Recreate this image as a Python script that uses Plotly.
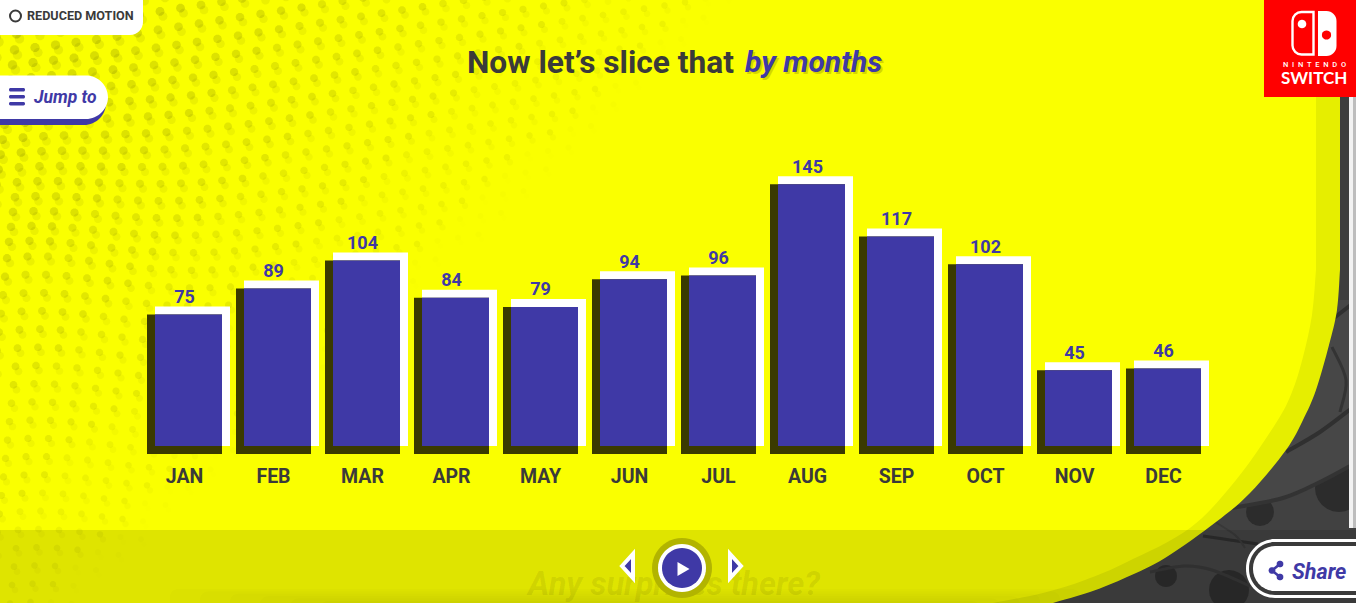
import math
import plotly.graph_objects as go

months = ["JAN", "FEB", "MAR", "APR", "MAY", "JUN", "JUL", "AUG", "SEP", "OCT", "NOV", "DEC"]
values = [75, 89, 104, 84, 79, 94, 96, 145, 117, 102, 45, 46]
title_plain = "Now let\u2019s slice that"
title_script = "by months"
next_line = "Any surprises there?"

W, H = 1356, 603
BLUE, DARK_TEXT, YELLOW, RIM = "#3f39a6", "#3a3a3a", "#faff00", "#e6ee00"
PX_PER_UNIT, BASE_PX, PITCH, BAR_W, SHIFT = 1.86, 454.0, 89.0, 75.0, 8.0
FIRST_CENTER = 184.5


def P(x, y):
    return f"{x / W:.5f},{1 - y / H:.5f}"


def poly(points, close=True):
    return "M" + "L".join(P(x, y) for x, y in points) + ("Z" if close else "")


def rrect(x0, y0, x1, y1, tl=0, tr=0, br=0, bl=0):
    k = 0.45
    d = f"M{P(x0 + tl, y0)}L{P(x1 - tr, y0)}"
    d += f"C{P(x1 - tr * k, y0)} {P(x1, y0 + tr * k)} {P(x1, y0 + tr)}"
    d += f"L{P(x1, y1 - br)}C{P(x1, y1 - br * k)} {P(x1 - br * k, y1)} {P(x1 - br, y1)}"
    d += f"L{P(x0 + bl, y1)}C{P(x0 + bl * k, y1)} {P(x0, y1 - bl * k)} {P(x0, y1 - bl)}"
    d += f"L{P(x0, y0 + tl)}C{P(x0, y0 + tl * k)} {P(x0 + tl * k, y0)} {P(x0 + tl, y0)}Z"
    return d


def smooth(points):
    d = ""
    n = len(points)
    for i in range(n - 1):
        p0 = points[max(i - 1, 0)]
        p1 = points[i]
        p2 = points[i + 1]
        p3 = points[min(i + 2, n - 1)]
        c1 = (p1[0] + (p2[0] - p0[0]) / 6, p1[1] + (p2[1] - p0[1]) / 6)
        c2 = (p2[0] - (p3[0] - p1[0]) / 6, p2[1] - (p3[1] - p1[1]) / 6)
        d += f"C{P(*c1)} {P(*c2)} {P(*p2)}"
    return d


def ngon(cx, cy, r, n=10):
    return poly([(cx + r * math.cos(2 * math.pi * i / n), cy + r * math.sin(2 * math.pi * i / n)) for i in range(n)])


shapes = []


def fill(path, color, layer="below", line=None, width=0):
    s = dict(type="path", path=path, xref="paper", yref="paper", fillcolor=color, layer=layer,
             line=dict(width=width, color=line or "rgba(0,0,0,0)"))
    shapes.append(s)


def stroke(points, color, width, layer="below"):
    d = "M" + P(*points[0]) + smooth(points)
    shapes.append(dict(type="path", path=d, xref="paper", yref="paper", layer=layer,
                       fillcolor="rgba(0,0,0,0)", line=dict(width=width, color=color)))


# --- tyre backdrop (right and bottom right) ---
TYRE_DARK = "#2c2c2c"
TYRE = "#474747"
fill(poly([(1000, 250), (1356, 250), (1356, 603), (1000, 603)]), "#414141")
fill(poly([(1340, 0), (1350, 0), (1350, 300), (1340, 300)]), "#3e3e3e")
# lobes sit under the tread band, so the band trims their tops
fill(ngon(1260, 512, 14, 20), TYRE_DARK)
fill(ngon(1339, 488, 24, 24), TYRE_DARK)
fill(ngon(1166, 576, 11, 20), TYRE_DARK)
fill(ngon(1229, 590, 20, 24), TYRE_DARK)
band_lower = [(1232, 508), (1283, 498), (1320, 482), (1352, 465)]
fill(f"M{P(*band_lower[0])}{smooth(band_lower)}L{P(1352, 300)}L{P(1290, 300)}Z", TYRE)
stroke(band_lower, "#333333", 4)
stroke([(1286, 452), (1320, 432), (1352, 408)], "#303030", 4)
stroke([(1332, 347), (1346, 380), (1340, 412)], "#333333", 3)
stroke([(1334, 318), (1352, 304)], "#303030", 4)
stroke([(1203, 536), (1230, 540), (1258, 544)], TYRE_DARK, 3)
stroke([(1150, 572), (1184, 566), (1212, 570), (1250, 586)], "#363636", 3)
stroke([(1212, 520), (1235, 535), (1245, 548)], "#383838", 2)
fill(poly([(1349, 0), (1353, 0), (1353, 528), (1349, 528)]), "#f2f2f2")
fill(poly([(1353, 90), (1356, 90), (1356, 528), (1353, 528)]), "#bdbdbd")

# --- rounded yellow panel and its rim ---
outer = [(1340, 270), (1337, 310), (1329, 345), (1316, 390), (1303, 420), (1286, 450), (1250, 493),
         (1216, 522), (1165, 558), (1127, 577), (1090, 592), (1053, 603), (1030, 610)]
inner = [(1316, 270), (1312, 315), (1303, 357), (1292, 392), (1276, 423), (1236, 480), (1190, 528),
         (1127, 562), (1085, 580), (1043, 593), (993, 603), (960, 610)]
fill(f"M{P(-5, -5)}L{P(1340, -5)}L{P(*outer[0])}{smooth(outer)}L{P(-5, 610)}Z", RIM)
fill(f"M{P(-5, -5)}L{P(1316, -5)}L{P(*inner[0])}{smooth(inner)}L{P(-5, 610)}Z", YELLOW)

# --- halftone decoration ---
bins = {}
for u in range(-12, 62):
    for v in range(-8, 50):
        x = 20.5 * u - 2.0 * v
        y = 18.5 * v - 3.2 * u
        t = min(max((y - 40) / 260, 0), 1)
        y += -50 * t * math.exp(-((x / 150) ** 2))
        s = 1 - (max(x, 0) + 1.1 * max(y, 0)) / 760
        if x < -8 or y < -8 or y > 612 or s <= 0.03:
            continue
        b = round(s * 6)
        bins.setdefault(b, []).append((x, y, s))
for b, pts in sorted(bins.items()):
    a = 0.17 * (b / 6) ** 0.7 + 0.012
    fill("".join(ngon(x + 3, y + 5, 3.2 + 1.8 * s) for x, y, s in pts), f"rgba(0,0,0,{a * 0.4:.3f})")
    fill("".join(ngon(x, y, 3.2 + 1.8 * s) for x, y, s in pts), f"rgba(0,0,0,{a * 0.8:.3f})")

# --- footer strip ---
fill(poly([(0, 530), (W, 530), (W, H), (0, H)]), "rgba(0,0,0,0.105)", "above")
for i in range(6):
    fill(rrect(170 + i * 30, 589 + i * 2.4, 1080 - i * 20, 604, 8, 8, 0, 0), "rgba(70,70,0,0.016)", "above")

# --- top-left buttons ---
fill(rrect(-20, -20, 143, 35, 0, 0, 13, 0), "#ffffff", "above")
shapes.append(dict(type="circle", xref="paper", yref="paper", x0=10 / W, x1=21 / W, y0=1 - 21.5 / H, y1=1 - 10.5 / H,
                   line=dict(color=DARK_TEXT, width=2), fillcolor="rgba(0,0,0,0)", layer="above"))
fill(rrect(-20, 84, 106, 125, 0, 18, 22, 0), BLUE, "above")
fill(rrect(-20, 75.5, 108, 119, 0, 22, 22, 0), "#ffffff", "above")
for yy in (88, 95, 102):
    fill(rrect(9, yy, 25, yy + 3.6, 1.5, 1.5, 1.5, 1.5), BLUE, "above")

# --- Nintendo Switch logo ---
fill(poly([(1264, 0), (W, 0), (W, 97), (1264, 97)]), "#ff0000", "above")
shapes.append(dict(type="path", xref="paper", yref="paper", layer="above", fillcolor="rgba(0,0,0,0)",
                   line=dict(color="#ffffff", width=2.4),
                   path=rrect(1292.5, 12, 1313.5, 54.5, 9, 0, 0, 9)))
fill(rrect(1318, 11, 1336.5, 56, 0, 10, 10, 0), "#ffffff", "above")
fill(ngon(1302, 24, 4.3, 20), "#ffffff", "above")
fill(ngon(1326.5, 35, 4.6, 20), "#ff0000", "above")

# --- player controls ---
fill(ngon(682, 568, 30, 48), "#b2b400", "above")
fill(ngon(682, 568, 24, 48), "#ffffff", "above")
fill(ngon(682, 568, 20, 48), BLUE, "above")
fill(poly([(677.5, 562), (677.5, 576), (689.5, 569)]), "#ffffff", "above")
fill(poly([(622, 566), (633, 554), (633, 578)]), BLUE, "above", "#ffffff", 4)
fill(poly([(741, 566), (730, 554), (730, 578)]), BLUE, "above", "#ffffff", 4)

# --- share pill ---
fill(rrect(1246, 539, 1420, 598, 29, 29, 29, 29), "#ffffff", "above")
fill(rrect(1249, 542, 1420, 595, 26, 26, 26, 26), DARK_TEXT, "above")
fill(rrect(1253, 546, 1420, 591, 22, 22, 22, 22), "#ffffff", "above")
shapes.append(dict(type="path", xref="paper", yref="paper", layer="above", fillcolor="rgba(0,0,0,0)",
                   line=dict(color=BLUE, width=2.6), path=poly([(1280, 564), (1272, 570.5), (1280, 577)], False)))
for cx, cy in [(1280, 564), (1272, 570.5), (1280, 577)]:
    fill(ngon(cx, cy, 3.4, 14), BLUE, "above")

# --- annotations ---
annotations = []


def note(text, x, y, size, color, family="Roboto", anchor="left", weight=400, style="normal"):
    annotations.append(dict(text=text, x=x / W, y=1 - y / H, xref="paper", yref="paper", showarrow=False,
                            xanchor=anchor, yanchor="middle", borderpad=0,
                            font=dict(family=family, size=size, color=color, weight=weight, style=style)))


SCRIPT = "Roboto"
note(title_plain, 466, 62.5, 31.7, DARK_TEXT, weight=700)
note(title_script, 746, 63.5, 30, "#d6d600", SCRIPT, weight=700, style="italic")
note(title_script, 744, 61.5, 30, BLUE, SCRIPT, weight=700, style="italic")
note("REDUCED MOTION", 26, 15.5, 12.6, DARK_TEXT, weight=700)
note("Jump to", 33, 97, 17.5, BLUE, SCRIPT, weight=700, style="italic")
note("Share", 1291, 571, 21.5, BLUE, SCRIPT, weight=700, style="italic")
note("N\u00a0\u00a0I\u00a0\u00a0N\u00a0\u00a0T\u00a0\u00a0E\u00a0\u00a0N\u00a0\u00a0D\u00a0\u00a0O", 1314, 65, 7.5, "#ffffff", anchor="center", weight=500)
note("SWITCH", 1314, 77.5, 17, "#ffffff", anchor="center", family="Lato", weight=700)

# --- chart ---
unit_shift = SHIFT / PX_PER_UNIT
bar_w = BAR_W / PITCH
half = bar_w / 2
step = SHIFT / PITCH

fig = go.Figure()
fig.add_trace(go.Scatter(x=[674], y=[587], xaxis="x2", yaxis="y2", mode="text", text=[next_line],
                         textposition="middle center", cliponaxis=False, showlegend=False, hoverinfo="skip",
                         textfont=dict(family="Roboto", size=32.5, color="rgba(70,70,0,0.10)", weight=700, style="italic")))
fig.add_trace(go.Bar(x=months, y=values, base=unit_shift, offset=-half + step, width=bar_w,
                     marker=dict(color="#ffffff", line=dict(width=0)), showlegend=False, name="highlight"))
fig.add_trace(go.Bar(x=months, y=values, base=0, offset=-half, width=bar_w,
                     marker=dict(color="#3a3a00", line=dict(width=0)), showlegend=False, name="shadow"))
fig.add_trace(go.Bar(x=months, y=[v - unit_shift for v in values], base=unit_shift, offset=-half + step,
                     width=bar_w - step, marker=dict(color=BLUE, line=dict(width=0)), showlegend=False, name="visits"))
fig.add_trace(go.Scatter(x=months, y=[v + unit_shift - 0.5 for v in values], mode="text", text=[str(v) for v in values],
                         textposition="top center", cliponaxis=False, showlegend=False, hoverinfo="skip",
                         textfont=dict(family="Roboto", size=18, color=BLUE, weight=700)))

fig.update_layout(
    width=W, height=H, margin=dict(l=0, r=0, t=0, b=0), autosize=False,
    paper_bgcolor=TYRE, plot_bgcolor="rgba(0,0,0,0)", barmode="overlay", showlegend=False,
    shapes=shapes, annotations=annotations,
    xaxis=dict(type="category", categoryorder="array", categoryarray=months,
               range=[-FIRST_CENTER / PITCH, (W - FIRST_CENTER) / PITCH],
               anchor="free", position=(H - BASE_PX) / H, domain=[0, 1],
               showgrid=False, zeroline=False, showline=False, ticks="outside", ticklen=5,
               tickcolor="rgba(0,0,0,0)", tickfont=dict(family="Roboto", size=19.5, color=DARK_TEXT, weight=700)),
    yaxis=dict(range=[(BASE_PX - H) / PX_PER_UNIT, BASE_PX / PX_PER_UNIT], domain=[0, 1], visible=False, showgrid=False),
    xaxis2=dict(range=[0, W], overlaying="x", visible=False, anchor="y2", domain=[0, 1]),
    yaxis2=dict(range=[H, 0], overlaying="y", visible=False, anchor="x2", domain=[0, 1]),
)

fig.write_html("out.html", config=dict(displayModeBar=False, responsive=False),
               post_script="document.body.style.margin='0';document.body.style.overflow='hidden';")
